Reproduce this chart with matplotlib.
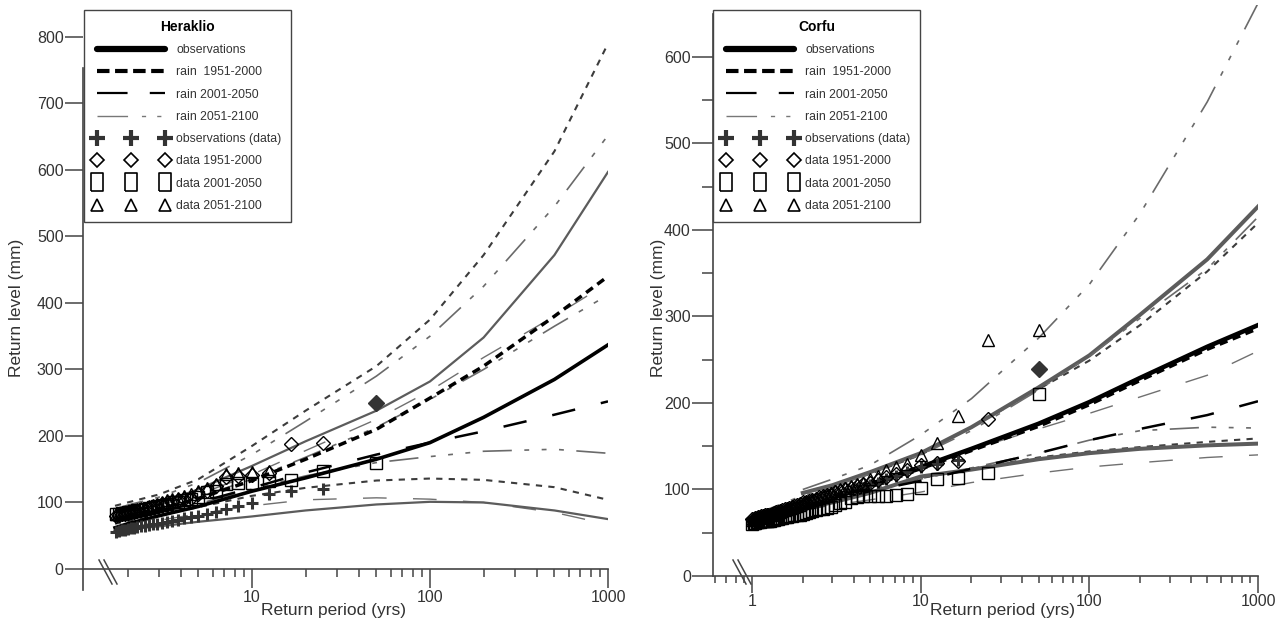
import numpy as np
import matplotlib.pyplot as plt
from matplotlib.lines import Line2D
from matplotlib.ticker import FixedLocator, LogLocator, NullFormatter, FuncFormatter

W, H = 1285, 619
plt.rcParams['font.family'] = ['Liberation Sans', 'DejaVu Sans']
plt.rcParams['lines.scale_dashes'] = False
nan = np.nan

# ---- Heraklio: return level curves (mm), read at these return periods (yrs)
her_T = [1.7, 2, 3, 5, 10, 20, 50, 100, 200, 500, 1000]
her_obs    = [62, 68, 80, 94, 117, 137, 165, 190, 228, 285, 337]
her_obs_lo = [57, 60, 64, 71, 79, 88, 97, 101, 100, 88, 75]
her_obs_hi = [80, 85, 98, 120, 155, 192, 238, 282, 348, 472, 597]
her_r1     = [74, 80, 90, 106, 133, 165, 210, 257, 305, 380, 440]
her_r1_lo  = [68, 72, 80, 93, 110, 122, 133, 136, 134, 123, 104]
her_r1_hi  = [95, 100, 112, 135, 185, 238, 305, 375, 472, 628, 790]
her_r2     = [72, 77, 86, 100, 122, 145, 172, 190, 207, 232, 252]
her_r2_lo  = [63, 66, 73, 83, 95, 104, 107, 105, 100, 85, 67]
her_r2_hi  = [80, 86, 96, 112, 142, 178, 225, 268, 318, 380, 430]
her_r3     = [76, 82, 92, 108, 135, 168, 213, 255, 300, 365, 412]
her_r3_lo  = [71, 75, 84, 98, 120, 140, 160, 169, 177, 180, 174]
her_r3_hi  = [90, 96, 108, 130, 172, 222, 290, 350, 425, 545, 652]

# Heraklio annual maxima, sorted (rank 1 = largest), 50-year record
her_years = 50
her_obs_pts = [nan, 120, 117, 112, 99, 95, 90, 86, 83, 80, 78, 76, 74, 72, 70,
               69, 68, 67, 66, 65, 64, 63, 62, 61, 60, 59, 58, 57, 56]
her_d1 = [250, 190, 188, 144, 141, 140, 138, 125, 118, 112, 107, 105, 103, 101, 99,
          97, 95, 93, 91, 89, 88, 87, 86, 85, 84, 83, 82, 81, 80]
her_d2 = [160, 147, 134, 132, 130, 129, 128, 118, 116, 108, 105, 103, 101, 100, 98,
          96, 95, 93, 92, 90, 89, 88, 87, 86, 85, 84, 84, 83, 82]
her_d3 = [nan, nan, nan, 147, 146, 145, 143, 128, 122, 117, 113, 110, 107, 105, 103,
          100, 98, 96, 94, 92, 91, 90, 88, 87, 86, 85, 84, 83, 82]

# ---- Corfu
cor_T = [1, 2, 3, 5, 10, 20, 50, 100, 200, 500, 1000]
cor_obs    = [67, 82, 92, 106, 126, 147, 176, 201, 229, 265, 290]
cor_obs_lo = [nan, 78, 85, 96, 115, 123, 135, 142, 147, 151, 153]
cor_obs_hi = [nan, 96, 105, 120, 142, 172, 218, 255, 302, 366, 427]
cor_r1     = [67, 81, 91, 105, 124, 145, 173, 198, 226, 262, 286]
cor_r1_lo  = [nan, 79, 86, 97, 113, 124, 137, 144, 149, 155, 159]
cor_r1_hi  = [nan, 95, 104, 118, 140, 172, 216, 249, 290, 352, 408]
cor_r2     = [67, 80, 88, 98, 110, 124, 142, 157, 170, 186, 202]
cor_r2_lo  = [nan, 76, 82, 88, 97, 108, 119, 126, 131, 137, 140]
cor_r2_hi  = [nan, 90, 98, 110, 127, 146, 170, 188, 207, 232, 260]
cor_r3     = [70, 93, 103, 118, 140, 168, 215, 254, 298, 355, 415]
cor_r3_lo  = [nan, 83, 90, 100, 112, 125, 142, 157, 168, 172, 171]
cor_r3_hi  = [nan, 100, 112, 128, 163, 205, 275, 337, 419, 548, 662]

cor_years = 50
cor_obs_pts = [nan, nan, 134, 130, 126, 120, 116, 112, 108, 105, 102, 100, 98, 96, 94,
               93, 91, 90, 88, 87, 86, 85, 84, 83, 82, 81, 80, 79, 78, 77, 76, 75, 74,
               73, 72, 71, 71, 70, 70, 69, 69, 68, 68, 67, 67, 66, 66, 65, 65, 64]
cor_d1 = [239, 181, 133, 131, 128, 122, 118, 114, 111, 108, 106, 104, 102, 100, 98,
          97, 95, 94, 92, 91, 89, 88, 87, 86, 85, 83, 82, 81, 80, 79, 78, 77, 76,
          75, 74, 74, 73, 72, 71, 71, 70, 70, 69, 69, 68, 68, 67, 67, 66, 66]
cor_d2 = [210, 119, 113, 112, 102, 95, 94, 93, 93, 92, 92, 91, 90, 86, 84, 82, 80,
          79, 78, 77, 76, 75, 74, 73, 72, 71, 70, 70, 69, 69, 68, 68, 67, 67, 66,
          66, 65, 65, 64, 64, 64, 63, 63, 63, 62, 62, 62, 61, 61, 60]
cor_d3 = [284, 273, 185, 154, 140, 130, 126, 122, 116, 112, 108, 106, 104, 102, 100,
          98, 96, 94, 92, 90, 89, 88, 86, 85, 84, 82, 81, 80, 79, 78, 77, 76, 75,
          74, 73, 72, 72, 71, 70, 70, 69, 69, 68, 68, 67, 67, 66, 66, 65, 65]

# line styles
DASHDOT = (21, 9, 3.5, 9, 3.5, 9, 3.5, 9)


def styles(thick):
    k = 1.25 if thick else 1.0
    return dict(
        obs=dict(color='black', lw=2.6 * k),
        obs_ci=dict(color='#5c5c5c', lw=1.6 * (1.8 if thick else 1.0)),
        r1=dict(color='black', lw=2.5, dashes=(6, 4)),
        r1_ci=dict(color='#3c3c3c', lw=1.5, dashes=(4.5, 4.5)),
        r2=dict(color='black', lw=1.8, dashes=(17, 19)),
        r2_ci=dict(color='#707070', lw=1.0, dashes=(17, 19)),
        r3=dict(color='#6a6a6a', lw=1.2, dashes=DASHDOT),
        r3_ci=dict(color='#6a6a6a', lw=1.2, dashes=DASHDOT),
    )


def draw_panel(ax, T, c, years, pts, st):
    for key in ['r3_hi', 'r3_lo', 'r2_hi', 'r2_lo', 'r1_hi', 'r1_lo', 'obs_hi', 'obs_lo',
                'r3', 'r2', 'r1', 'obs']:
        sty = st[key] if key in st else st[key.split('_')[0] + '_ci']
        ax.plot(T, c[key], **sty)

    obs_pts, d1, d2, d3 = pts
    rank = np.arange(1, len(d1) + 1)
    Tp = years / rank
    ax.plot(Tp, obs_pts, ls='none', marker='+', ms=9, mew=2.2, color='#333333', zorder=4)
    ax.plot(Tp[1:], d1[1:], ls='none', marker='D', ms=7, mfc='none', mec='black', mew=1, zorder=4)
    ax.plot(Tp[:1], d1[:1], ls='none', marker='D', ms=8, color='#333333', zorder=4)
    ax.plot(Tp, d2, ls='none', marker='s', ms=8, mfc='none', mec='black', mew=1, zorder=4)
    ax.plot(Tp, d3, ls='none', marker='^', ms=8, mfc='none', mec='black', mew=1, zorder=4)


def style_axes(ax, xlim, ylim, yticks, yminor, ylen, xlen, xminlen):
    ax.set_xscale('log')
    ax.set_xlim(*xlim)
    ax.set_ylim(*ylim)
    for s in ['top', 'right']:
        ax.spines[s].set_visible(False)
    for s in ['left', 'bottom']:
        ax.spines[s].set_color('#444444')
        ax.spines[s].set_linewidth(1.2)
    ax.xaxis.set_major_locator(LogLocator(base=10))
    ax.xaxis.set_minor_locator(LogLocator(base=10, subs=np.arange(2, 10)))
    ax.xaxis.set_major_formatter(FuncFormatter(lambda v, p: f'{v:g}'))
    ax.xaxis.set_minor_formatter(NullFormatter())
    ax.yaxis.set_major_locator(FixedLocator(yticks))
    ax.yaxis.set_minor_locator(FixedLocator(yminor))
    ax.tick_params(axis='y', which='major', length=ylen, width=1.1, pad=1,
                   labelsize=11.5, colors='#444444', labelcolor='#333333')
    ax.tick_params(axis='y', which='minor', length=ylen * 0.55, width=1.1, colors='#444444')
    ax.tick_params(axis='x', which='major', length=xlen, width=1.1, pad=1,
                   labelsize=11.5, colors='#444444', labelcolor='#333333')
    ax.tick_params(axis='x', which='minor', length=xminlen, width=1.1, colors='#444444')


def add_legend(ax, fig, title, x_px, y_px):
    rect = [(-0.32, -0.5), (0.32, -0.5), (0.32, 0.5), (-0.32, 0.5), (-0.32, -0.5)]
    handles = [
        Line2D([], [], color='black', lw=4.5, solid_capstyle='round', label='observations'),
        Line2D([], [], color='black', lw=3, dashes=(9, 4), label='rain  1951-2000'),
        Line2D([], [], color='black', lw=1.6, dashes=(22, 16), label='rain 2001-2050'),
        Line2D([], [], color='#777777', lw=1.0, dashes=(22, 10, 3, 8, 3, 8), label='rain 2051-2100'),
        Line2D([], [], ls='none', marker='+', ms=11, mew=3, color='#333333', label='observations (data)'),
        Line2D([], [], ls='none', marker='D', ms=7, mfc='none', mec='black', mew=1.2, label='data 1951-2000'),
        Line2D([], [], ls='none', marker=rect, ms=13, mfc='none', mec='black', mew=1.2, label='data 2001-2050'),
        Line2D([], [], ls='none', marker='^', ms=8, mfc='none', mec='black', mew=1.2, label='data 2051-2100'),
    ]
    leg = ax.legend(handles=handles, loc='upper left',
                    bbox_to_anchor=(x_px / W, 1 - y_px / H), bbox_transform=fig.transFigure,
                    borderaxespad=0, fancybox=False, frameon=True, numpoints=3,
                    handlelength=6.1, handletextpad=0.65, labelspacing=0.84, borderpad=0.8,
                    prop={'family': ['Liberation Sans Narrow', 'Liberation Sans'], 'size': 8.8},
                    title=title,
                    title_fontproperties={'family': ['Liberation Sans'], 'weight': 'bold', 'size': 10})
    fr = leg.get_frame()
    fr.set_edgecolor('#444444')
    fr.set_linewidth(1.0)
    fr.set_alpha(1)
    for t in leg.get_texts():
        t.set_color('#333333')
    return leg


fig = plt.figure(figsize=(W / 100, H / 100), dpi=100)

# ---- left panel: Heraklio
ax1 = fig.add_axes([83 / W, (H - 590) / H, (608 - 83) / W, (590 - 5) / H])
her = dict(obs=her_obs, obs_lo=her_obs_lo, obs_hi=her_obs_hi,
           r1=her_r1, r1_lo=her_r1_lo, r1_hi=her_r1_hi,
           r2=her_r2, r2_lo=her_r2_lo, r2_hi=her_r2_hi,
           r3=her_r3, r3_lo=her_r3_lo, r3_hi=her_r3_hi)
draw_panel(ax1, her_T, her, her_years, (her_obs_pts, her_d1, her_d2, her_d3), styles(False))
style_axes(ax1, (1.1235, 1000), (-31.6, 848), np.arange(0, 801, 100), [], 13, 14, 6)
ax1.spines['bottom'].set_position(('data', 0))
ax1.spines['left'].set_bounds(-31.6, 753)
add_legend(ax1, fig, 'Heraklio', 84, 10)

# ---- right panel: Corfu
ax2 = fig.add_axes([713 / W, (H - 576) / H, (1258 - 713) / W, (576 - 5) / H])
cor = dict(obs=cor_obs, obs_lo=cor_obs_lo, obs_hi=cor_obs_hi,
           r1=cor_r1, r1_lo=cor_r1_lo, r1_hi=cor_r1_hi,
           r2=cor_r2, r2_lo=cor_r2_lo, r2_hi=cor_r2_hi,
           r3=cor_r3, r3_lo=cor_r3_lo, r3_hi=cor_r3_hi)
draw_panel(ax2, cor_T, cor, cor_years, (cor_obs_pts, cor_d1, cor_d2, cor_d3), styles(True))
style_axes(ax2, (0.587, 1000), (0, 660), np.arange(0, 601, 100), np.arange(50, 600, 100), 15, 12, 5)
ax2.spines['left'].set_bounds(0, 650)
add_legend(ax2, fig, 'Corfu', 713, 10)

# axis titles
fig.text(333 / W, 1 - 611 / H, 'Return period (yrs)', ha='center', va='center', fontsize=12.5, color='#333333')
fig.text(1002 / W, 1 - 611 / H, 'Return period (yrs)', ha='center', va='center', fontsize=12.5, color='#333333')
fig.text(17 / W, 1 - 308 / H, 'Return level (mm)', ha='center', va='center', rotation=90, fontsize=12.5, color='#333333')
fig.text(658 / W, 1 - 308 / H, 'Return level (mm)', ha='center', va='center', rotation=90, fontsize=12.5, color='#333333')

# axis break marks
for x0 in (99, 104, 733, 738):
    fig.add_artist(Line2D([x0 / W, (x0 + 13) / W], [1 - 560 / H, 1 - 584 / H],
                          color='#444444', lw=1.1))

fig.savefig('out.png', dpi=100)
